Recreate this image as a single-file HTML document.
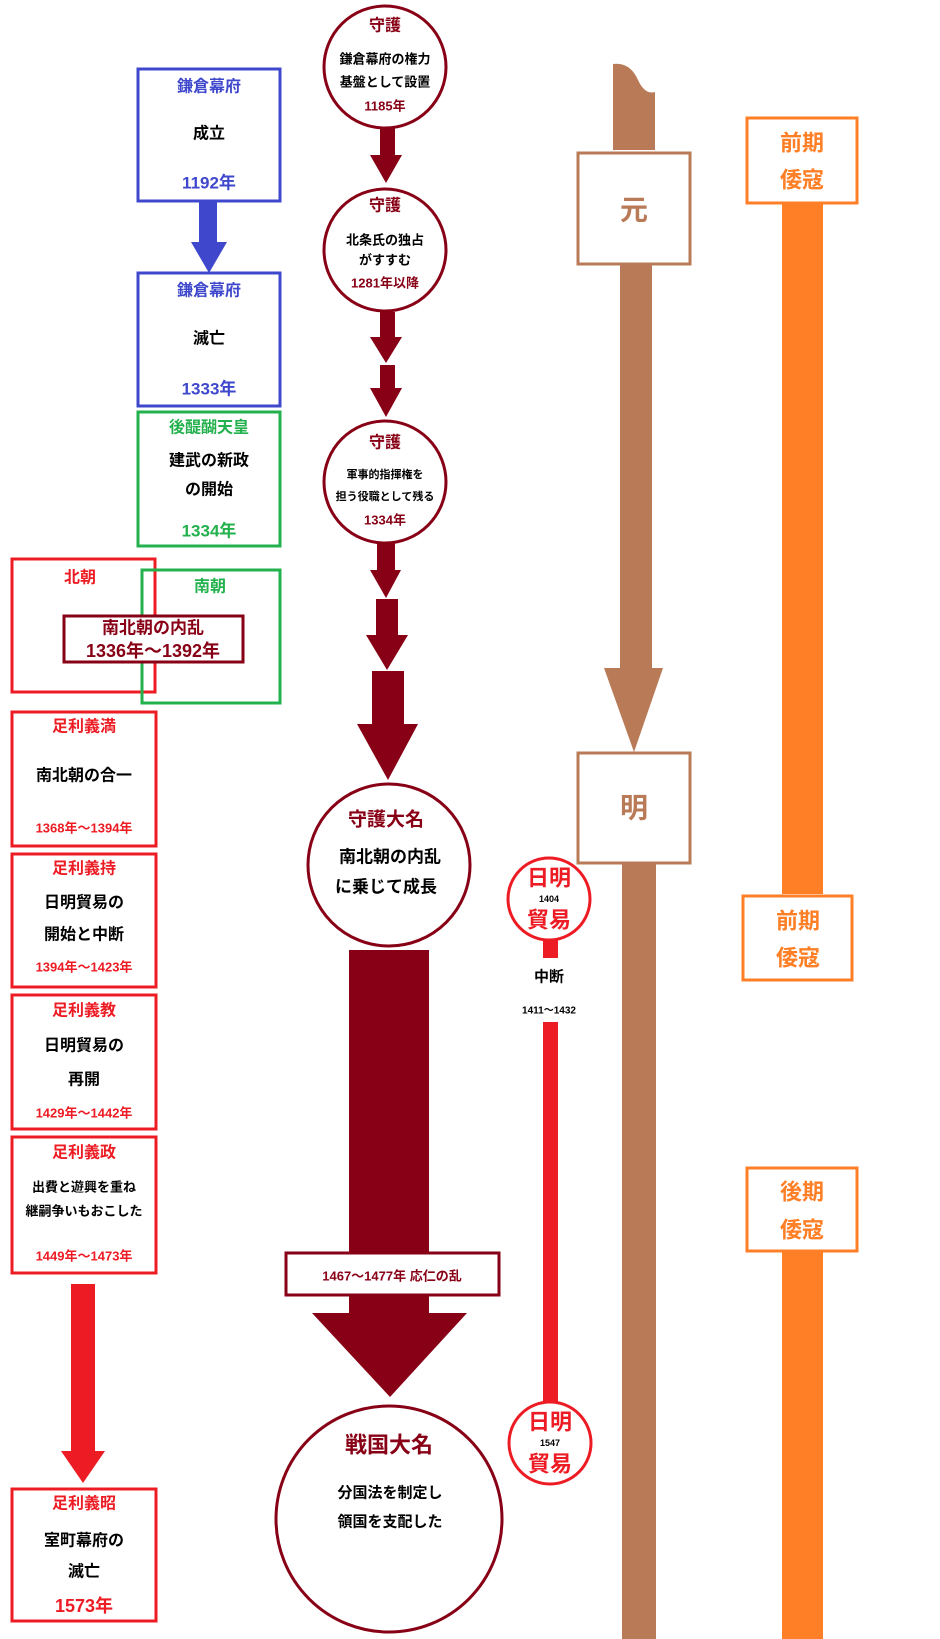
<!DOCTYPE html>
<html><head><meta charset="utf-8"><style>
html,body{margin:0;padding:0;background:#fff;}
svg{display:block;}
text{font-family:"Liberation Sans","Noto Sans CJK JP",sans-serif;font-weight:bold;text-anchor:middle;dominant-baseline:central;}
</style></head><body>
<svg width="940" height="1639" viewBox="0 0 940 1639" xmlns="http://www.w3.org/2000/svg">
<rect width="940" height="1639" fill="#fff"/>
<!-- left column -->
<g fill="none" stroke-width="3">
<rect x="138" y="69" width="142" height="132" stroke="#3f48cc"/>
<rect x="138" y="273" width="142" height="133" stroke="#3f48cc"/>
<rect x="138" y="412" width="142" height="134" stroke="#22b14c"/>
<rect x="12" y="559" width="143" height="133" stroke="#ed1c24"/>
<rect x="142" y="570" width="138" height="133" stroke="#22b14c"/>
</g>
<polygon points="199,201 217,201 217,242 227,242 209,273 191,242 199,242" fill="#3f48cc"/>
<text x="209" y="87" font-size="16" fill="#3f48cc">鎌倉幕府</text>
<text x="209" y="134" font-size="16" fill="#000">成立</text>
<text x="209" y="183" font-size="17" fill="#3f48cc">1192年</text>
<text x="209" y="291" font-size="16" fill="#3f48cc">鎌倉幕府</text>
<text x="209" y="339" font-size="16" fill="#000">滅亡</text>
<text x="209" y="389" font-size="17" fill="#3f48cc">1333年</text>
<text x="209" y="428" font-size="16" fill="#22b14c">後醍醐天皇</text>
<text x="209" y="461" font-size="16" fill="#000">建武の新政</text>
<text x="209" y="490" font-size="16" fill="#000">の開始</text>
<text x="209" y="531" font-size="17" fill="#22b14c">1334年</text>
<text x="80" y="578" font-size="16" fill="#ed1c24">北朝</text>
<text x="210" y="587" font-size="16" fill="#22b14c">南朝</text>
<rect x="64" y="616" width="179" height="46" fill="#fff" stroke="#880015" stroke-width="3"/>
<text x="153" y="628" font-size="17" fill="#880015">南北朝の内乱</text>
<text x="153" y="651" font-size="18" fill="#880015">1336年～1392年</text>
<g fill="none" stroke="#ed1c24" stroke-width="3">
<rect x="12" y="712" width="144" height="134"/>
<rect x="12" y="854" width="144" height="133"/>
<rect x="12" y="995" width="144" height="134"/>
<rect x="12" y="1137" width="144" height="136"/>
<rect x="12" y="1489" width="144" height="132"/>
</g>
<text x="84" y="727" font-size="16" fill="#ed1c24">足利義満</text>
<text x="84" y="776" font-size="16" fill="#000">南北朝の合一</text>
<text x="84" y="828" font-size="13" fill="#ed1c24">1368年～1394年</text>
<text x="84" y="869" font-size="16" fill="#ed1c24">足利義持</text>
<text x="84" y="903" font-size="16" fill="#000">日明貿易の</text>
<text x="84" y="935" font-size="16" fill="#000">開始と中断</text>
<text x="84" y="967" font-size="13" fill="#ed1c24">1394年～1423年</text>
<text x="84" y="1011" font-size="16" fill="#ed1c24">足利義教</text>
<text x="84" y="1046" font-size="16" fill="#000">日明貿易の</text>
<text x="84" y="1080" font-size="16" fill="#000">再開</text>
<text x="84" y="1113" font-size="13" fill="#ed1c24">1429年～1442年</text>
<text x="84" y="1153" font-size="16" fill="#ed1c24">足利義政</text>
<text x="84" y="1187" font-size="13" fill="#000">出費と遊興を重ね</text>
<text x="84" y="1211" font-size="13" fill="#000">継嗣争いもおこした</text>
<text x="84" y="1256" font-size="13" fill="#ed1c24">1449年～1473年</text>
<polygon points="71,1284 95,1284 95,1451 105,1451 83,1483 61,1451 71,1451" fill="#ed1c24"/>
<text x="84" y="1504" font-size="16" fill="#ed1c24">足利義昭</text>
<text x="84" y="1541" font-size="16" fill="#000">室町幕府の</text>
<text x="84" y="1572" font-size="16" fill="#000">滅亡</text>
<text x="84" y="1606" font-size="18" fill="#ed1c24">1573年</text>
<!-- center column -->
<g fill="#880015">
<polygon points="380,128 395,128 395,155 402,155 386,183 370,155 380,155"/>
<polygon points="380,312 395,312 395,337 402,337 386,363 370,337 380,337"/>
<polygon points="380,365 395,365 395,388 402,388 386,417 370,388 380,388"/>
<polygon points="377,543 395,543 395,570 401,570 386,598 370,570 377,570"/>
<polygon points="376,599 398,599 398,635 408,635 387,670 366,635 376,635"/>
<polygon points="372,671 404,671 404,724 418,724 388,780 357,724 372,724"/>
<polygon points="349,950 429,950 429,1313 467,1313 390,1397 312,1313 349,1313"/>
</g>
<g fill="#fff" stroke="#880015" stroke-width="3">
<circle cx="385" cy="67" r="61"/>
<circle cx="385" cy="250" r="61"/>
<circle cx="385" cy="482" r="61"/>
<circle cx="389" cy="865" r="81"/>
<circle cx="389" cy="1519" r="113"/>
</g>
<text x="385" y="26" font-size="16" fill="#880015">守護</text>
<text x="385" y="59" font-size="13" fill="#000">鎌倉幕府の権力</text>
<text x="385" y="82" font-size="13" fill="#000">基盤として設置</text>
<text x="385" y="106" font-size="13" fill="#880015">1185年</text>
<text x="385" y="206" font-size="16" fill="#880015">守護</text>
<text x="385" y="240" font-size="13" fill="#000">北条氏の独占</text>
<text x="385" y="260" font-size="13" fill="#000">がすすむ</text>
<text x="385" y="283" font-size="13" fill="#880015">1281年以降</text>
<text x="385" y="443" font-size="16" fill="#880015">守護</text>
<text x="385" y="475" font-size="11" fill="#000">軍事的指揮権を</text>
<text x="385" y="497" font-size="11" fill="#000">担う役職として残る</text>
<text x="385" y="520" font-size="13" fill="#880015">1334年</text>
<text x="386" y="820" font-size="19" fill="#880015">守護大名</text>
<text x="390" y="857" font-size="17" fill="#000">南北朝の内乱</text>
<text x="386" y="887" font-size="17" fill="#000">に乗じて成長</text>
<rect x="286" y="1253" width="213" height="42" fill="#fff" stroke="#880015" stroke-width="3"/>
<text x="392" y="1276" font-size="13" fill="#880015">1467～1477年  応仁の乱</text>
<text x="389" y="1445" font-size="22" fill="#880015">戦国大名</text>
<text x="390" y="1493" font-size="15" fill="#000">分国法を制定し</text>
<text x="390" y="1522" font-size="15" fill="#000">領国を支配した</text>
<!-- red 日明 -->
<rect x="543" y="940" width="15" height="18" fill="#ed1c24"/>
<rect x="543" y="1022" width="15" height="380" fill="#ed1c24"/>
<circle cx="549" cy="899" r="41" fill="#fff" stroke="#ed1c24" stroke-width="3"/>
<circle cx="550" cy="1443" r="41" fill="#fff" stroke="#ed1c24" stroke-width="3"/>
<text x="549" y="878" font-size="22" fill="#ed1c24">日明</text>
<text x="549" y="899" font-size="9" fill="#000">1404</text>
<text x="549" y="920" font-size="22" fill="#ed1c24">貿易</text>
<text x="550" y="1422" font-size="22" fill="#ed1c24">日明</text>
<text x="550" y="1443" font-size="9" fill="#000">1547</text>
<text x="550" y="1464" font-size="22" fill="#ed1c24">貿易</text>
<text x="549" y="977" font-size="15" fill="#000">中断</text>
<text x="549" y="1011" font-size="10" fill="#000">1411～1432</text>
<!-- brown -->
<path d="M613,64 Q630,62 638,80 Q645,95 655,92 L655,150 L613,150 Z" fill="#b97a57"/>
<rect x="620" y="265" width="32" height="405" fill="#b97a57"/>
<polygon points="604,668 663,668 634,752" fill="#b97a57"/>
<rect x="622" y="864" width="34" height="775" fill="#b97a57"/>
<rect x="578" y="153" width="112" height="111" fill="#fff" stroke="#b97a57" stroke-width="3"/>
<rect x="578" y="753" width="112" height="110" fill="#fff" stroke="#b97a57" stroke-width="3"/>
<text x="634" y="210" font-size="28" fill="#b97a57">元</text>
<text x="634" y="808" font-size="28" fill="#b97a57">明</text>
<!-- orange -->
<rect x="782" y="204" width="41" height="690" fill="#ff7f27"/>
<rect x="782" y="1251" width="41" height="388" fill="#ff7f27"/>
<g fill="#fff" stroke="#ff7f27" stroke-width="3">
<rect x="747" y="118" width="110" height="85"/>
<rect x="743" y="896" width="109" height="84"/>
<rect x="747" y="1168" width="110" height="83"/>
</g>
<text x="802" y="143" font-size="22" fill="#ff7f27">前期</text>
<text x="802" y="180" font-size="22" fill="#ff7f27">倭寇</text>
<text x="798" y="921" font-size="22" fill="#ff7f27">前期</text>
<text x="798" y="958" font-size="22" fill="#ff7f27">倭寇</text>
<text x="802" y="1192" font-size="22" fill="#ff7f27">後期</text>
<text x="802" y="1230" font-size="22" fill="#ff7f27">倭寇</text>
</svg>
</body></html>
